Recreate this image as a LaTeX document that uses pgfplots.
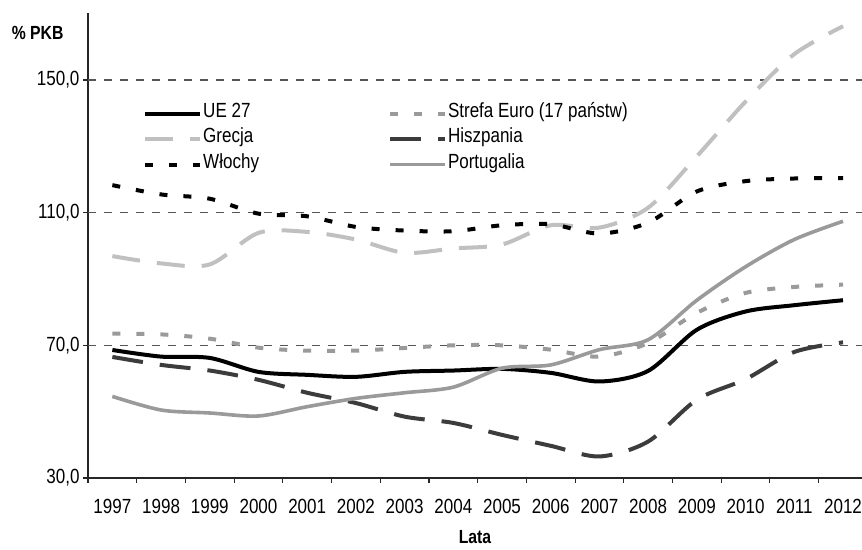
\documentclass[border=0pt]{standalone}
\usepackage{pgfplots}
\pgfplotsset{compat=1.18}
\usepackage{fontspec}
\setmainfont[FakeStretch=0.83]{Liberation Sans}
\definecolor{cEA}{HTML}{9A9A9A}
\definecolor{cGR}{HTML}{C0C0C0}
\definecolor{cES}{HTML}{3C3C3C}
\definecolor{cPT}{HTML}{9A9A9A}
\definecolor{cgrid}{HTML}{555555}
\begin{document}
\begin{tikzpicture}[x=1pt,y=1pt]
\useasboundingbox (0,0) rectangle (862,549);
\begin{axis}[
  at={(88pt,71pt)}, anchor=south west,
  scale only axis, width=774pt, height=465pt,
  xmin=-0.5, xmax=15.39, ymin=30, ymax=170.2,
  axis lines=left,
  axis line style={-, draw=black!85, line width=1.1pt},
  tick align=outside,
  major tick length=5pt, minor tick length=5pt,
  xtick={0,...,15},
  xticklabels={1997,1998,1999,2000,2001,2002,2003,2004,2005,2006,2007,2008,2009,2010,2011,2012},
  major x tick style={draw=none},
  minor xtick={-0.5,0.5,...,14.5},
  minor x tick style={draw=black!85, line width=1.1pt},
  ytick={30,70,110,150},
  major y tick style={draw=black!85, line width=1.1pt},
  extra y ticks={70,110,150},
  extra y tick labels={},
  extra y tick style={grid=major, major grid style={draw=cgrid, line width=1.2pt, dash pattern=on 8pt off 8pt}},
  /pgf/number format/fixed, /pgf/number format/fixed zerofill,
  /pgf/number format/precision=1, /pgf/number format/use comma,
  /pgf/number format/1000 sep={},
  /pgf/number format/assume math mode=true,
  tick label style={font=\fontsize{20.5}{24}\selectfont, text=black},
  xticklabel style={yshift=-13pt},
  xlabel={Lata},
  xlabel style={at={(axis description cs:0.5,-0.127)}, anchor=center, font=\bfseries\fontsize{19}{22}\selectfont},
  ylabel={\% PKB},
  ylabel style={rotate=-90, at={(axis description cs:-0.065,0.957)}, anchor=center, font=\bfseries\fontsize{19}{22}\selectfont},
  legend columns=2,
  legend cell align=left,
  legend image code/.code={\draw[#1] (0pt,0pt) -- (55pt,0pt);},
  legend style={draw=none, fill=none, inner sep=0pt, at={(axis description cs:0.0711,0.811)}, anchor=north west,
    font=\fontsize{20.5}{24}\selectfont, row sep=0.5pt,
    nodes={inner xsep=1pt, inner ysep=0pt, text height=16pt, text depth=9pt},
    /tikz/every even column/.append style={column sep=128pt}},
]
\addplot[black, line width=4pt, smooth] coordinates {
(0,68.6) (1,66.6) (2,66.2) (3,62.0) (4,61.1) (5,60.5) (6,62.0) (7,62.4)
(8,62.9) (9,61.7) (10,59.1) (11,62.3) (12,74.7) (13,80.2) (14,82.1) (15,83.6)};
\addlegendentry{UE 27}
\addplot[cEA, line width=4pt, smooth, dash pattern=on 8pt off 16pt] coordinates {
(0,73.5) (1,73.3) (2,72.0) (3,69.3) (4,68.4) (5,68.4) (6,69.2) (7,70.0)
(8,70.0) (9,68.7) (10,66.6) (11,70.7) (12,79.8) (13,85.8) (14,87.6) (15,88.3)};
\addlegendentry{Strefa Euro (17 państw)}
\addplot[cGR, line width=4pt, smooth, dash pattern=on 28pt off 17pt] coordinates {
(0,96.9) (1,94.7) (2,94.4) (3,103.9) (4,104.2) (5,101.9) (6,97.9) (7,99.2)
(8,100.4) (9,106.2) (10,105.5) (11,111.5) (12,127.0) (13,143.5) (14,157.8) (15,166.2)};
\addlegendentry{Grecja}
\addplot[cES, line width=4pt, smooth, dash pattern=on 31pt off 17pt] coordinates {
(0,66.5) (1,64.1) (2,62.4) (3,59.6) (4,55.7) (5,52.6) (6,48.5) (7,46.6)
(8,43.0) (9,39.7) (10,36.5) (11,41.0) (12,53.6) (13,59.8) (14,68.0) (15,70.9)};
\addlegendentry{Hiszpania}
\addplot[black, line width=4pt, smooth, dash pattern=on 8pt off 16pt] coordinates {
(0,118.3) (1,115.5) (2,114.2) (3,109.7) (4,108.9) (5,105.7) (6,104.6) (7,104.4)
(8,106.2) (9,106.5) (10,103.7) (11,107.0) (12,116.4) (13,119.5) (14,120.3) (15,120.4)};
\addlegendentry{Włochy}
\addplot[cPT, line width=3.6pt, smooth] coordinates {
(0,54.6) (1,50.5) (2,49.6) (3,48.7) (4,51.5) (5,54.0) (6,55.7) (7,57.4)
(8,63.1) (9,64.1) (10,68.7) (11,71.7) (12,83.6) (13,93.7) (14,101.9) (15,107.4)};
\addlegendentry{Portugalia}
\end{axis}
\end{tikzpicture}
\end{document}
